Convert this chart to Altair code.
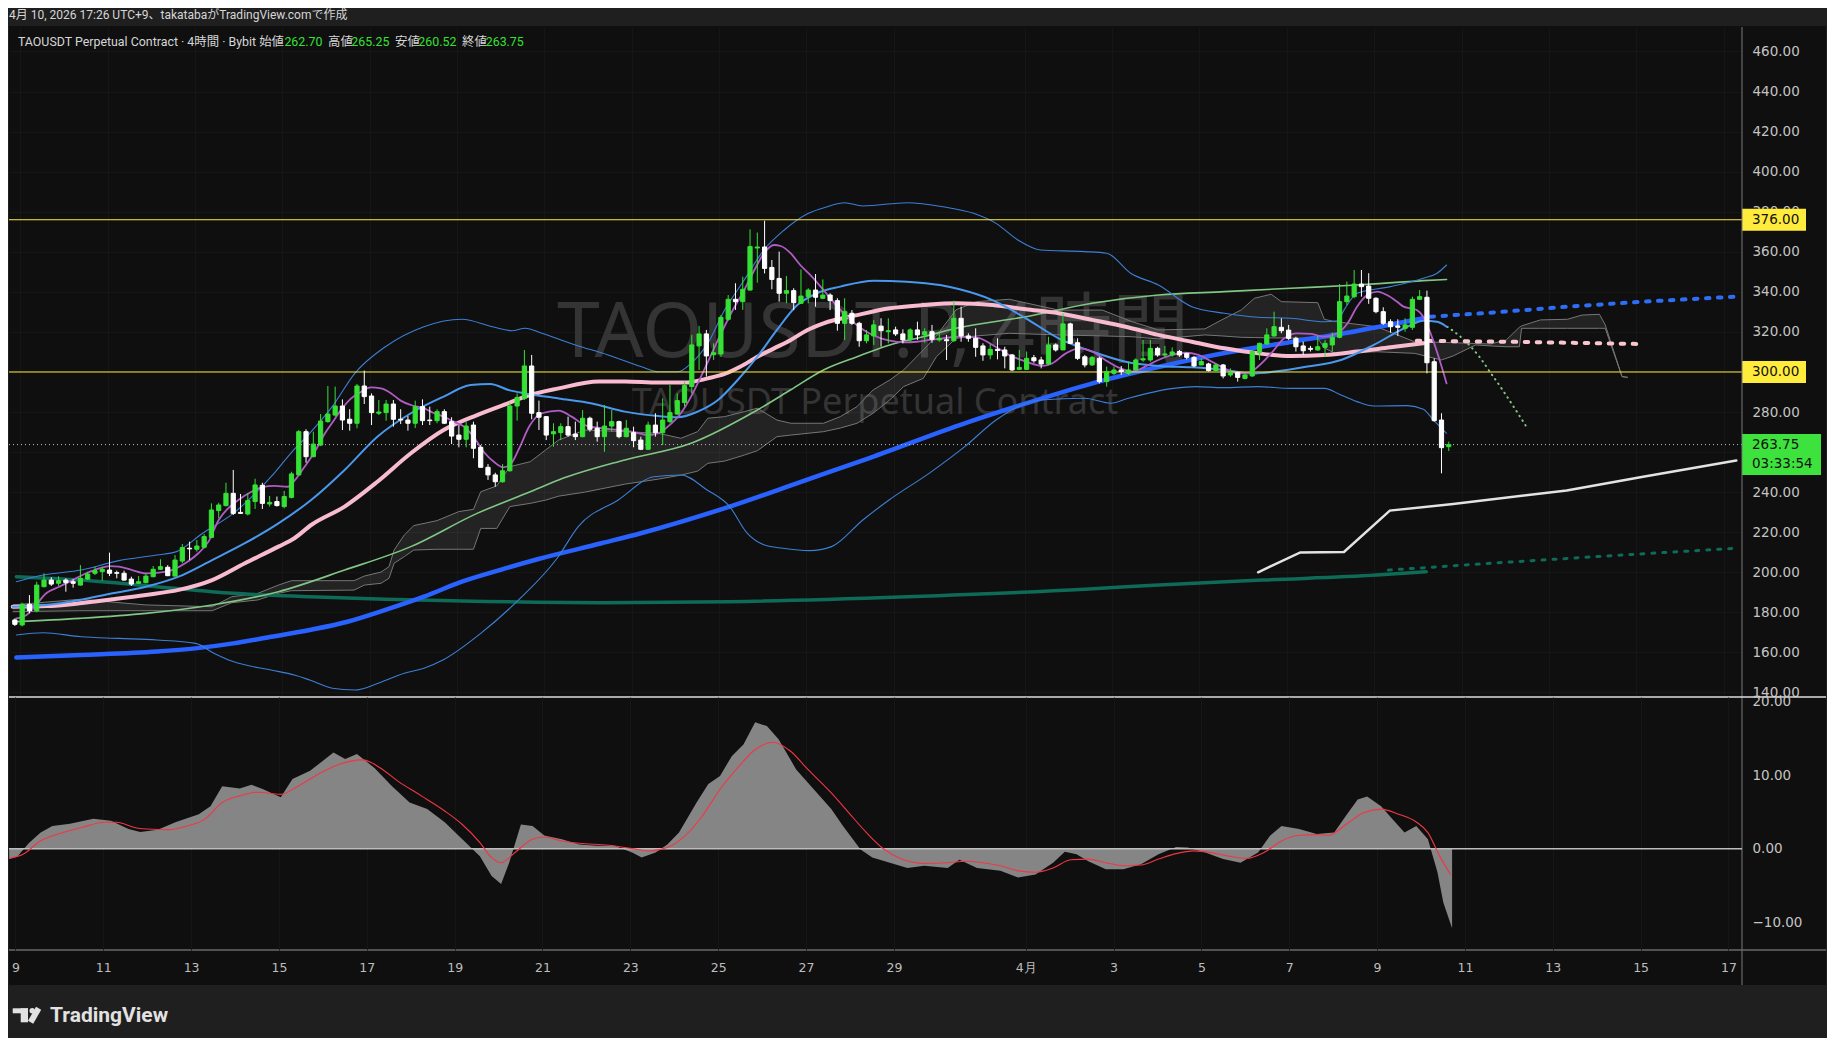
import altair as alt
import pandas as pd
from datetime import datetime, timezone

# ---------------- values ----------------
OPEN = [176.2,173.7,184.0,180.8,192.8,196.1,194.5,196.1,195.3,193.6,
196.6,199.5,200.3,201.1,199.8,199.5,196.6,194.5,194.8,197.8,
201.5,202.5,198.1,205.6,212.0,211.5,212.5,217.4,230.8,233.3,
239.4,229.9,229.1,235.3,243.4,234.1,235.3,232.8,237.4,248.6,
270.2,257.7,263.5,275.2,278.5,283.0,276.4,274.4,293.0,288.0,
279.4,279.7,284.0,276.4,276.0,274.4,282.7,276.0,275.7,280.2,
275.2,268.5,266.4,273.5,262.4,252.4,248.6,245.2,250.7,283.0,
286.8,303.0,279.7,277.7,269.1,269.7,272.7,269.0,267.7,276.9,
271.9,267.7,273.0,275.2,267.7,269.7,266.0,261.4,273.5,269.7,
275.2,279.0,284.7,292.7,313.0,319.0,308.6,309.0,326.3,336.3,
335.1,340.9,361.9,362.4,352.2,346.7,339.3,340.6,334.3,337.6,
340.9,336.8,338.4,335.6,324.3,329.3,324.3,315.6,318.0,322.9,
320.1,321.0,319.0,316.0,321.0,318.5,320.1,316.0,316.1,315.6,
326.8,318.0,316.8,313.0,308.5,311.3,311.0,308.5,301.3,301.3,
307.1,306.0,304.0,313.5,311.0,324.0,314.6,307.6,303.5,306.8,
295.2,299.3,301.0,299.3,301.0,306.0,306.0,311.8,308.5,308.5,
310.2,309.3,307.3,303.5,304.0,300.7,303.5,298.5,299.7,296.8,
298.0,309.6,314.0,318.0,322.3,320.9,316.8,313.0,311.8,311.0,
312.3,313.5,317.3,335.1,337.6,343.9,342.9,336.8,330.1,325.1,
323.0,321.8,322.3,336.3,337.3,305.1,276.0,262.70]
HIGH = [177.0,184.8,188.6,195.3,199.5,197.5,198.0,197.0,196.5,203.6,
200.3,202.8,202.8,209.8,200.8,200.8,197.8,198.1,199.5,203.1,
206.5,203.6,208.6,214.1,215.3,216.1,219.1,234.4,234.7,244.7,
251.1,239.1,239.4,246.7,244.7,238.1,237.8,240.6,250.2,271.0,
271.4,270.2,279.0,293.0,292.7,286.3,281.4,294.0,300.7,289.3,
286.0,286.0,286.0,281.4,278.0,285.7,286.3,282.7,281.4,281.4,
277.4,273.5,275.2,275.2,263.5,254.0,249.7,254.0,284.7,289.3,
311.0,308.5,285.7,278.0,274.4,274.4,277.7,275.2,281.0,277.7,
275.2,283.5,281.0,275.7,276.0,272.7,267.7,275.2,279.4,286.8,
293.5,289.3,295.2,318.5,323.0,321.0,314.3,328.4,338.4,344.3,
347.6,371.2,369.6,375.5,355.9,360.1,347.9,341.8,351.2,341.8,
348.9,346.2,339.3,336.8,336.8,330.9,325.1,321.0,325.9,326.8,
326.8,322.6,321.3,321.8,325.1,321.8,323.5,319.6,318.5,335.6,
332.6,319.3,321.8,314.3,314.0,316.8,312.6,309.0,311.0,310.2,
308.5,307.6,317.6,314.3,329.3,324.6,316.8,308.5,308.0,307.6,
302.7,302.7,303.0,305.1,306.8,316.0,316.0,312.6,313.0,312.3,
311.0,309.6,308.0,306.8,304.6,304.0,304.0,301.8,300.2,299.3,
311.0,314.6,321.8,330.1,326.8,323.5,317.6,315.1,313.0,318.0,
316.0,319.6,343.9,345.1,350.9,350.9,349.3,337.3,332.3,326.3,
326.3,326.8,337.6,340.9,340.6,306.8,279.4,265.25]
LOW = [173.2,173.0,179.5,180.0,192.5,193.2,193.2,190.3,192.3,193.4,
196.1,198.6,195.8,198.1,197.0,195.8,193.2,194.1,194.5,197.5,
201.1,198.1,198.0,204.5,206.1,210.3,212.0,217.0,227.0,232.8,
228.6,229.1,228.4,231.6,231.6,232.8,232.8,231.9,236.9,248.6,
254.7,257.4,263.0,274.7,277.7,271.0,270.7,271.9,284.0,273.5,
278.5,275.7,272.7,274.0,270.7,272.0,273.5,273.5,274.4,274.0,
264.0,262.4,262.4,256.9,252.4,246.1,242.7,244.7,250.2,275.7,
286.0,276.4,271.0,266.0,262.7,266.0,267.7,266.0,267.4,270.2,
265.2,260.2,270.2,266.9,267.4,262.4,261.0,261.0,267.7,263.5,
274.4,278.5,282.7,289.3,301.0,297.7,306.0,307.6,325.6,331.0,
331.0,340.6,344.6,349.2,341.3,335.1,334.3,330.9,333.9,334.3,
332.6,336.3,330.9,320.6,316.0,323.5,312.6,314.3,313.5,312.6,
314.3,318.0,314.3,315.1,316.0,314.6,314.6,315.1,306.0,315.1,
315.1,315.1,307.6,305.6,306.3,306.3,301.8,300.5,301.0,301.0,
304.6,301.8,303.5,310.2,311.0,314.0,306.0,302.3,303.0,294.3,
292.7,298.5,298.5,298.5,301.0,305.1,305.1,307.6,307.3,307.6,
307.6,306.3,302.3,303.5,300.2,300.2,296.8,297.6,295.2,296.3,
297.6,306.0,313.5,317.6,319.3,316.0,310.2,308.5,310.2,310.6,
307.6,310.2,316.8,333.4,336.8,337.6,334.0,329.3,323.5,319.6,
318.0,320.1,321.0,335.9,299.3,275.2,249.4,260.52]
CLOSE = [174.0,184.0,180.8,193.6,196.1,194.1,195.8,194.8,194.5,197.0,
199.1,200.8,201.5,199.5,199.5,196.1,194.1,195.3,198.1,201.5,
202.8,198.3,206.1,212.3,211.7,213.1,217.8,231.1,233.6,239.4,
229.4,229.4,235.8,243.6,234.4,234.9,233.3,237.8,249.1,270.2,
257.7,264.0,275.5,279.0,283.0,276.0,274.4,293.0,287.7,279.7,
280.0,284.0,276.4,276.0,274.4,282.7,275.7,275.7,280.2,274.4,
268.0,266.4,273.0,261.9,252.4,248.6,245.2,250.7,283.0,287.3,
303.0,279.4,277.4,268.5,270.2,272.7,268.5,267.7,276.9,271.4,
267.7,273.0,275.2,267.7,271.9,265.7,261.4,273.5,269.7,276.0,
279.7,285.7,293.2,313.5,319.0,308.0,309.6,327.3,336.3,335.1,
341.3,362.6,362.4,351.7,346.2,339.3,340.6,334.6,337.9,340.9,
337.3,338.4,335.6,324.3,330.1,324.3,315.6,318.5,323.5,320.6,
320.6,319.0,316.0,321.0,318.5,320.1,316.3,316.8,315.6,326.8,
318.0,316.8,312.3,308.5,311.3,310.7,308.0,301.0,302.3,306.8,
305.6,304.0,313.5,311.0,324.0,314.3,306.8,303.5,307.3,295.2,
300.2,301.0,300.2,301.0,306.0,306.6,311.8,308.5,309.0,310.0,
308.5,307.3,303.0,305.2,300.7,303.5,298.0,299.7,297.3,298.5,
310.2,314.3,318.5,322.6,320.6,316.8,312.6,310.6,311.3,312.6,
314.3,317.3,335.1,337.9,343.9,342.6,336.8,330.1,324.3,322.6,
322.3,323.5,336.3,337.6,304.6,275.7,262.2,263.75]

# indicator lines: (bar position, price)
PURPLE = [(0.2,177.0),(1.6,178.7),(2.9,183.7),(4.3,189.5),(6.1,192.8),(7.9,196.1),(9.8,199.5),(11.6,202.0),
(13.0,203.1),(14.3,202.8),(16.1,201.1),(18.0,199.5),(19.8,199.8),(21.6,201.1),(23.4,204.5),(25.2,209.5),
(26.6,215.3),(28.0,226.1),(29.3,231.9),(30.7,236.1),(32.5,240.2),(33.9,242.4),(35.7,243.1),(37.5,242.7),
(38.5,246.1),(39.8,252.7),(41.2,260.2),(42.6,269.4),(43.7,275.2),(44.8,281.0),(46.2,286.8),(47.6,290.2),
(48.9,292.3),(50.3,291.8),(51.7,289.3),(53.0,285.7),(54.4,283.5),(56.2,281.9),(57.6,279.4),(58.9,277.7),
(60.3,275.2),(61.7,272.7),(63.0,267.7),(64.4,260.2),(65.8,255.2),(67.1,252.4),(68.1,254.0),(69.3,262.0),
(70.7,273.0),(72.4,279.4),(74.7,280.7),(76.5,277.7),(78.3,273.5),(80.6,271.9),(82.9,271.0),(84.7,270.2),
(87.0,268.5),(88.4,269.4),(89.7,272.7),(91.5,279.4),(92.9,287.7),(94.7,301.0),(96.6,316.0),(98.4,329.3),
(100.2,340.9),(101.6,350.9),(102.9,359.2),(104.3,363.4),(105.2,362.9),(106.6,359.2),(107.9,353.4),(109.3,348.4),
(111.1,340.9),(113.0,332.6),(114.8,326.0),(116.6,321.0),(118.4,317.6),(120.2,315.6),(122.1,314.8),(123.9,315.1),
(125.7,316.0),(127.5,316.8),(129.8,317.6),(132.1,317.3),(134.3,313.5),(136.6,308.5),(138.9,305.2),(141.2,303.0),
(142.5,304.3),(144.4,309.3),(146.2,311.8),(148.0,310.2),(149.8,306.0),(151.6,302.3),(153.5,300.2),(155.3,302.7),
(157.1,306.0),(159.0,308.5),(160.8,309.6),(162.6,308.5),(164.4,305.2),(166.2,301.8),(168.0,299.3),(169.4,299.3),
(170.8,302.7),(172.6,309.3),(174.4,316.8),(176.2,319.3),(178.1,319.0),(179.9,317.6),(181.7,319.3),(183.1,324.3),
(184.4,332.6),(185.8,338.4),(187.2,340.1),(188.5,338.4),(189.9,335.1),(190.8,332.6),(191.7,331.8),(192.6,330.9),
(193.5,327.6),(194.5,319.3),(195.6,307.6),(196.7,294.3)]
BB_BASIS = [(-0.3,182.8),(4.3,183.7),(8.9,186.2),(13.4,189.5),(18.0,192.8),(22.5,197.8),(27.1,206.1),(31.6,214.5),
(36.2,224.4),(40.7,236.1),(45.3,251.1),(49.8,267.7),(54.4,279.4),(58.9,287.7),(62.6,293.5),(65.3,294.0),
(68.0,290.8),(70.1,289.3),(74.7,286.8),(79.3,284.3),(83.8,280.2),(88.4,278.0),(91.1,277.4),(93.8,280.2),
(96.6,286.0),(99.3,296.0),(102.0,307.6),(104.7,321.0),(107.5,333.4),(110.2,339.3),(113.4,342.6),(118.0,345.6),
(122.5,345.1),(127.1,343.4),(129.8,341.3),(134.3,335.9),(138.9,326.8),(143.4,316.8),(148.0,310.2),(152.6,305.1),
(157.1,303.0),(161.7,302.3),(166.2,301.0),(169.9,299.3),(173.1,300.2),(177.6,302.7),(182.2,306.0),(186.7,313.5),
(191.3,322.6),(193.5,325.6),(195.4,325.1),(196.7,322.6)]
BB_UPPER = [(0.2,195.3),(3.9,198.6),(9.1,201.1),(14.3,205.8),(19.5,208.6),(22.2,210.3),(25.8,219.5),(30.0,229.4),
(35.2,247.7),(37.9,259.4),(40.5,269.4),(43.6,282.7),(46.7,299.3),(50.9,312.6),(56.2,322.6),(61.4,326.3),
(65.6,322.6),(68.3,320.6),(70.1,321.8),(72.4,319.3),(77.0,313.5),(81.5,308.5),(86.1,302.6),(88.4,300.1),
(91.1,300.1),(92.9,304.3),(95.2,314.3),(97.5,330.9),(100.2,345.9),(102.9,360.9),(105.7,370.9),(108.9,379.0),
(111.6,382.5),(114.0,384.5),(116.5,382.9),(122.6,384.5),(127.5,382.5),(131.7,379.2),(134.8,374.2),(137.8,365.9),
(140.9,360.9),(147.0,360.1),(150.0,359.3),(153.3,349.3),(157.1,343.4),(161.7,332.6),(166.2,329.3),(170.8,327.3),
(175.3,326.8),(179.9,325.1),(181.7,325.6),(182.6,330.9),(184.4,339.3),(189.0,342.6),(193.5,346.8),(195.4,349.3),
(196.7,353.4)]
BB_LOWER = [(0.2,168.7),(3.9,169.8),(9.1,167.8),(14.3,167.0),(19.5,166.2),(24.8,164.5),(27.4,159.5),(30.0,155.4),
(35.2,151.2),(38.4,148.7),(40.5,146.2),(43.6,142.1),(46.7,141.2),(49.9,144.6),(53.5,149.6),(56.2,152.1),
(58.8,156.2),(64.0,169.5),(69.2,186.2),(74.5,207.0),(77.4,222.8),(82.9,236.1),(87.8,247.7),(91.5,248.6),
(95.1,241.1),(98.2,232.8),(100.6,219.5),(103.0,213.6),(105.5,212.0),(109.2,210.8),(112.2,212.8),(116.5,226.1),
(120.1,236.1),(125.6,249.4),(130.5,262.7),(134.8,276.0),(137.8,282.7),(140.9,286.0),(147.0,286.9),(150.6,284.4),
(153.0,286.9),(159.2,291.8),(162.2,292.7),(166.0,292.2),(170.8,292.7),(175.3,291.8),(179.9,291.8),(182.2,288.5),
(184.4,285.2),(186.7,283.0),(191.3,283.2),(193.5,281.4),(194.9,276.0),(196.7,269.4)]
PINK = [(-0.3,182.8),(4.3,183.1),(8.9,184.5),(13.4,186.5),(18.0,188.7),(22.5,191.2),(27.1,196.1),(31.6,204.5),
(36.2,212.8),(38.4,217.0),(40.7,223.6),(45.3,232.8),(49.8,245.2),(54.4,259.4),(58.9,271.0),(63.5,278.5),
(68.0,284.7),(70.1,287.7),(74.7,291.8),(80.2,295.2),(83.8,295.2),(88.4,294.7),(92.0,294.7),(95.2,296.8),
(97.5,299.0),(99.7,302.7),(102.0,307.6),(104.3,311.8),(106.6,316.0),(108.9,321.0),(111.1,324.3),(115.7,328.4),
(120.2,331.8),(124.8,333.4),(129.3,334.3),(134.3,333.4),(138.9,331.3),(143.4,329.3),(148.0,326.0),(152.6,322.6),
(157.1,318.5),(161.7,315.1),(166.2,311.8),(170.8,309.3),(175.3,308.0),(179.9,308.5),(184.4,310.2),(189.0,312.3),
(193.5,314.3)]
PINK_PROJ = [(192.6,315.6),(207.0,315.0),(222.9,314.0)]
LGREEN = [(-0.3,175.3),(8.9,177.0),(18.0,179.5),(27.1,183.7),(36.2,190.3),(45.3,201.1),(54.4,212.8),(63.5,229.4),
(70.8,240.2),(74.7,246.1),(83.8,256.1),(92.9,264.4),(102.0,281.0),(106.6,291.1),(111.1,301.0),(115.7,307.6),
(120.2,313.5),(124.8,317.6),(129.3,321.8),(138.9,327.6),(148.0,334.3),(157.1,338.4),(166.2,340.1),(175.3,341.8),
(184.4,343.4),(193.5,345.6),(196.7,346.2)]
LGREEN_PROJ = [(196.8,322.6),(199.1,316.0),(201.2,307.6),(202.8,299.3),(204.4,291.0),(205.9,282.7),(207.8,271.9)]
BLUE = [(0.2,157.5),(9.1,158.7),(19.5,160.4),(24.8,162.0),(30.0,164.5),(35.2,167.8),(40.5,171.2),(45.7,175.3),
(50.9,181.2),(56.2,187.8),(61.4,195.3),(66.6,201.1),(71.8,206.5),(80.6,214.5),(86.0,219.5),(98.2,232.8),
(107.9,245.0),(117.0,256.5),(129.8,273.5),(138.9,284.3),(148.9,295.2),(157.1,302.5),(166.2,309.5),(175.3,315.0),
(184.4,320.5),(193.5,326.8)]
BLUE_PROJ = [(194.5,327.6),(202.8,329.6),(213.3,332.6),(223.7,335.1),(236.3,337.6)]
TEAL = [(0.2,197.8),(9.1,196.1),(19.5,192.8),(30.0,189.5),(40.5,187.8),(50.9,186.5),(61.4,185.7),(71.8,185.0),
(80.6,184.8),(98.2,185.3),(122.6,187.8),(147.0,191.5),(155.8,193.4),(171.4,196.1),(187.1,198.6),(193.9,200.3)]
TEAL_PROJ = [(188.7,201.1),(202.8,204.5),(218.5,208.1),(236.5,212.0)]
WHITE = [(170.8,200.0),(176.6,209.9),(182.6,210.1),(188.9,230.8),(197.6,234.1),(213.2,240.8),(223.7,247.7),(236.5,255.8)]
# cloud: (bar position, upper edge, lower edge)
CLOUD = [(-0.3,183.7,180.3),(8.9,186.5,180.8),(18.0,183.7,180.8),(27.1,182.8,180.8),(29.8,187.8,184.8),
(33.4,189.5,186.2),(36.2,193.6,189.5),(38.0,195.8,190.8),(46.6,195.8,191.1),(48.0,198.1,193.6),(50.3,200.1,194.5),
(51.4,202.8,197.0),(52.1,211.1,204.5),(53.5,218.6,207.8),(54.8,223.3,211.1),(58.0,225.8,211.5),(61.0,230.3,211.5),
(63.0,231.4,211.5),(64.0,240.2,221.9),(66.2,243.1,221.9),(68.0,252.7,232.8),(70.8,255.2,234.4),(72.9,261.0,236.0),
(74.7,266.0,238.0),(78.3,271.0,240.0),(83.8,270.2,244.0),(88.4,269.4,246.5),(91.5,266.9,248.5),(93.8,270.2,250.5),
(95.2,276.9,254.4),(97.5,277.7,255.5),(100.2,280.2,258.5),(102.0,281.9,260.7),(104.7,276.0,267.7),(106.6,274.4,268.5),
(111.1,274.4,270.2),(113.4,277.7,272.0),(115.7,282.7,274.4),(117.9,291.0,279.4),(120.2,296.0,286.0),(122.1,301.0,292.7),
(124.8,311.0,296.8),(126.6,318.0,307.6),(129.3,331.0,316.8),(132.1,335.1,318.0),(136.6,336.3,319.3),(143.4,330.9,318.5),
(149.4,330.9,318.0),(153.5,325.1,317.6),(157.1,321.0,316.5),(163.5,321.5,318.5),(165.8,326.0,318.0),(168.5,331.0,317.3),
(170.3,336.8,317.2),(172.6,338.8,317.0),(174.0,335.1,317.0),(179.0,334.6,316.8),(179.9,326.3,312.0),(181.4,325.1,309.3),
(187.1,322.6,310.1),(192.3,315.1,309.3),(196.0,314.8,306.0),(197.6,314.6,308.0),(200.7,314.2,313.5),(202.8,314.0,313.0),
(204.9,316.0,312.6),(206.7,322.3,312.6),(207.0,323.0,321.8),(209.6,326.0,321.8),(213.3,326.3,321.8),(215.3,328.4,321.8),
(217.7,328.8,321.8),(218.5,323.5,321.8),(220.8,297.7,297.7),(221.6,297.3,297.3)]
OSC = [(-0.1,-1.4),(1.05,-1.0),(2.6,0.8),(4.2,2.2),(5.8,3.1),(8.2,3.4),(11.4,4.1),(13.8,3.8),(16.2,2.7),(17.8,2.3),
(20.2,2.6),(22.6,3.6),(25.8,4.7),(27.4,5.8),(29.0,8.5),(31.4,8.2),(33.0,8.7),(34.6,8.1),(37.0,7.0),(38.6,9.5),
(41.0,10.6),(44.2,13.1),(45.8,12.2),(47.4,12.9),(49.8,11.0),(52.2,8.5),(54.6,6.3),(57.0,5.4),(59.4,3.6),(61.8,1.3),
(64.2,-1.0),(65.8,-3.7),(67.1,-4.8),(68.2,-1.9),(69.8,3.3),(71.4,3.1),(73.0,1.8),(75.4,1.3),(77.8,0.6),(80.2,0.4),
(82.6,0.4),(85.0,-0.5),(86.3,-1.2),(88.2,-0.5),(89.8,0.6),(91.4,2.2),(93.8,6.3),(95.4,8.8),(97.0,9.9),(98.6,12.6),
(100.2,14.2),(101.8,17.2),(103.4,16.7),(105.0,14.9),(107.4,10.8),(109.8,8.1),(112.2,5.4),(113.8,3.1),(116.2,-0.1),
(117.8,-1.2),(120.2,-1.9),(122.6,-2.6),(124.9,-2.3),(128.1,-2.6),(129.7,-1.5),(132.1,-2.6),(135.3,-3.0),(137.7,-3.9),
(140.1,-3.5),(142.5,-1.9),(144.1,-0.4),(145.7,-0.75),(147.3,-1.7),(149.7,-2.8),(152.1,-2.8),(154.5,-2.1),(156.9,-0.75),
(159.3,0.25),(160.9,0.16),(163.3,-0.5),(165.7,-1.4),(168.1,-1.9),(170.5,-0.5),(172.1,1.75),(173.7,3.1),(176.1,2.7),
(178.5,2.0),(180.9,2.2),(182.5,4.5),(184.1,6.7),(185.4,7.1),(187.3,5.8),(188.9,4.0),(190.5,2.2),(192.1,3.1),
(193.7,1.3),(195.0,-3.2),(195.8,-7.3),(197.0,-10.8)]
SIGNAL = [(-0.1,-1.3),(1.8,-0.75),(4.2,1.1),(6.6,2.0),(9.8,2.9),(13.0,3.6),(14.6,3.6),(17.0,2.9),(19.4,2.65),(21.8,2.6),
(24.2,3.1),(26.6,4.0),(29.0,6.3),(31.4,7.2),(33.8,7.7),(37.0,7.4),(39.4,8.55),(42.6,10.4),(45.0,11.5),(48.2,12.1),
(50.6,11.0),(53.0,9.2),(56.2,7.2),(59.4,5.15),(61.8,3.3),(64.2,0.84),(65.8,-1.2),(67.1,-1.9),(69.0,-0.5),(71.4,1.3),
(73.0,1.6),(75.4,1.07),(77.8,0.75),(81.8,0.48),(85.0,0.02),(87.4,-0.29),(89.8,0.16),(92.2,1.75),(94.6,4.5),(97.0,8.1),
(99.4,11.0),(101.8,13.5),(104.2,14.5),(106.6,13.3),(109.0,10.8),(112.2,7.6),(114.6,4.9),(117.0,2.2),(119.4,-0.07),
(121.8,-1.4),(124.9,-2.0),(128.1,-1.9),(130.5,-1.7),(132.9,-1.9),(135.3,-2.3),(137.7,-3.0),(140.1,-3.2),(142.5,-2.6),
(144.9,-1.5),(147.3,-1.4),(149.7,-1.9),(152.1,-2.3),(154.5,-2.2),(156.9,-1.4),(159.3,-0.66),(161.7,-0.29),(164.1,-0.52),
(166.5,-1.0),(168.9,-1.3),(171.3,-0.5),(173.7,1.07),(176.1,1.84),(178.5,1.93),(180.1,1.84),(182.5,3.3),(184.9,4.9),
(187.3,5.4),(189.7,4.7),(192.1,3.65),(193.7,2.2),(195.3,-1.0),(196.8,-3.5)]

LEVELS = [376.0, 300.0]
LEVEL_LABELS = ["376.00", "300.00"]
LAST_PRICE = [263.75]
LAST_LABEL = ["263.75"]
COUNTDOWN = ["03:33:54"]
PRICE_TICKS = [140, 160, 180, 200, 220, 240, 260, 280, 300, 320, 340, 360, 380, 400, 420, 440, 460]
OSC_TICKS = [20, 10, 0, -10]
TICK_DAYS = [(3, 9), (3, 11), (3, 13), (3, 15), (3, 17), (3, 19), (3, 21), (3, 23), (3, 25), (3, 27), (3, 29),
             (4, 1), (4, 3), (4, 5), (4, 7), (4, 9), (4, 11), (4, 13), (4, 15), (4, 17)]
TITLE = "4月 10, 2026 17:26 UTC+9、takatabaがTradingView.comで作成"
LEGEND_TEXT = ["TAOUSDT Perpetual Contract · 4時間 · Bybit  始値", "262.70", "高値", "265.25", "安値", "260.52", "終値", "263.75"]
WATERMARK = "TAOUSDT.P, 4時間"
WATERMARK_SUB = "TAOUSDT Perpetual Contract"
BRAND = "TradingView"

# ---------------- helpers ----------------
T0 = datetime(2026, 3, 8, 21, tzinfo=timezone.utc).timestamp() * 1000
BAR_MS = 4 * 3600 * 1000


def t_ms(i):
    return T0 + i * BAR_MS


GREEN = "#36e136"
BG = "#0f0f0f"
FRAME = "#1f1f1f"
LOGO = "#e2e2e2"
FONT_UI = "Roboto, 'Noto Sans CJK JP', sans-serif"
FONT_AX = "'DejaVu Sans', sans-serif"
FONT_WM = "'Noto Sans', 'Noto Sans CJK JP', sans-serif"

W, H1, H2 = 1733, 670, 253
XS = alt.Scale(type="utc", domain=[t_ms(-0.123), t_ms(236.6)], nice=False)
YS = alt.Scale(domain=[137.73, 472.23], nice=False, zero=False)
VS = alt.Scale(domain=[-13.77, 20.65], nice=False, zero=False)
TICK_MS = [datetime(2026, m, d, tzinfo=timezone.utc).timestamp() * 1000 for m, d in TICK_DAYS]

XAX_TOP = alt.Axis(values=TICK_MS, labels=False, ticks=False, domain=False, grid=True, gridColor="#161616")
XAX_BOT = alt.Axis(values=TICK_MS, ticks=False, tickSize=0, domain=False, grid=True, gridColor="#161616",
                   labelExpr="utcdate(datum.value) == 1 ? (utcmonth(datum.value) + 1) + '月' : '' + utcdate(datum.value)",
                   labelColor="#bdbdbd", labelFont=FONT_AX, labelFontSize=12.5, labelPadding=11,
                   labelFlush=False, labelOverlap=False)
YAX = alt.Axis(orient="right", values=PRICE_TICKS, format=".2f", ticks=False, tickSize=0, domain=False,
               grid=True, gridColor="#161616", labelColor="#c4c4c4", labelFont=FONT_AX,
               labelFontSize=13.5, labelPadding=10)
VAX = alt.Axis(orient="right", values=OSC_TICKS, ticks=False, tickSize=0, domain=False, grid=False,
               labelExpr="(datum.value < 0 ? '\u2212' : '') + format(abs(datum.value), '.2f')",
               labelColor="#c4c4c4", labelFont=FONT_AX, labelFontSize=13.5, labelPadding=10)

X = alt.X("t:T", scale=XS, axis=XAX_TOP, title=None)
XB = alt.X("t:T", scale=XS, axis=XAX_BOT, title=None)
ONE = pd.DataFrame({"k": [0]})


def Y(field):
    return alt.Y(f"{field}:Q", scale=YS, axis=YAX, title=None)


def V(field):
    return alt.Y(f"{field}:Q", scale=VS, axis=VAX, title=None)


def pts(pairs):
    return pd.DataFrame({"t": [t_ms(a) for a, _ in pairs], "p": [b for _, b in pairs]})


def line(pairs, color, width, dash=None, interp="monotone"):
    kw = dict(color=color, strokeWidth=width, clip=True, interpolate=interp, strokeCap="round")
    if dash:
        kw["strokeDash"] = dash
    return alt.Chart(pts(pairs)).mark_line(**kw).encode(x=X, y=Y("p"))


def rect_px(x0, x1, y0, y1, color):
    return alt.Chart(ONE).mark_rect(color=color).encode(
        x=alt.value(x0), x2=alt.value(x1), y=alt.value(y0), y2=alt.value(y1))


def rule_px(x0, x1, y0, y1, color, width, cap="butt"):
    return alt.Chart(ONE).mark_rule(color=color, strokeWidth=width, strokeCap=cap).encode(
        x=alt.value(x0), x2=alt.value(x1), y=alt.value(y0), y2=alt.value(y1))


def text_px(s, x, y, color, size, font=FONT_UI, weight="normal", align="left", baseline="middle"):
    return alt.Chart(ONE).mark_text(text=s, align=align, baseline=baseline, color=color, fontSize=size,
                                    font=font, fontWeight=weight).encode(x=alt.value(x), y=alt.value(y))


# ---------------- price pane ----------------
candles = pd.DataFrame({"t": [t_ms(i) for i in range(len(OPEN))], "o": OPEN, "h": HIGH, "l": LOW, "c": CLOSE})
candles["dir"] = ["up" if c >= o else "down" for o, c in zip(OPEN, CLOSE)]
DIR_SCALE = alt.Scale(domain=["up", "down"], range=[GREEN, "#ffffff"])

cloud_df = pd.DataFrame({"t": [t_ms(a) for a, _, _ in CLOUD], "top": [b for _, b, _ in CLOUD],
                         "bot": [c for _, _, c in CLOUD]})
cloud_fill = alt.Chart(cloud_df).mark_area(color="#ffffff", opacity=0.085, clip=True).encode(
    x=X, y=Y("top"), y2="bot:Q")
cloud_top = alt.Chart(cloud_df).mark_line(color="#767676", strokeWidth=1, clip=True).encode(x=X, y=Y("top"))
cloud_bot = alt.Chart(cloud_df).mark_line(color="#767676", strokeWidth=1, clip=True).encode(x=X, y=Y("bot"))

wicks = alt.Chart(candles).mark_rule(strokeWidth=1, clip=True).encode(
    x=X, y=Y("l"), y2="h:Q", color=alt.Color("dir:N", scale=DIR_SCALE, legend=None))
bodies = alt.Chart(candles).mark_bar(size=4.2, strokeWidth=1, clip=True).encode(
    x=X, y=Y("o"), y2="c:Q",
    color=alt.Color("dir:N", scale=DIR_SCALE, legend=None),
    stroke=alt.Stroke("dir:N", scale=DIR_SCALE, legend=None))

lev_df = pd.DataFrame({"p": LEVELS, "lab": LEVEL_LABELS})
last_df = pd.DataFrame({"p": LAST_PRICE, "lab": LAST_LABEL, "cd": COUNTDOWN})
level_rules = alt.Chart(lev_df).mark_rule(color="#ffeb3b", strokeWidth=1).encode(y=Y("p"))
last_rule = alt.Chart(last_df).mark_rule(color="#bdbdbd", strokeWidth=1, strokeDash=[1, 3]).encode(y=Y("p"))
level_boxes = alt.Chart(lev_df).mark_tick(color="#ffeb3b", size=64, thickness=22, orient="horizontal",
                                          opacity=1).encode(y=Y("p"), x=alt.value(W + 32))
level_text = alt.Chart(lev_df).mark_text(align="left", baseline="middle", color="#111111", fontSize=13.5,
                                         font=FONT_AX).encode(y=Y("p"), x=alt.value(W + 10), text="lab:N")
last_box = alt.Chart(last_df).mark_tick(color="#3de23d", size=79, thickness=41, orient="horizontal",
                                        yOffset=10, opacity=1).encode(y=Y("p"), x=alt.value(W + 39.5))
last_text = alt.Chart(last_df).mark_text(align="left", baseline="middle", color="#111111", fontSize=13.5,
                                         font=FONT_AX).encode(y=Y("p"), x=alt.value(W + 10), text="lab:N")
last_cd = alt.Chart(last_df).mark_text(align="left", baseline="middle", color="#111111", fontSize=13.5,
                                       font=FONT_AX, dy=19).encode(y=Y("p"), x=alt.value(W + 10), text="cd:N")

LEGEND_X = [8.9, 275.4, 319, 342.3, 386, 409.3, 453, 476.7]
legend_layers = []
for k, (s, x) in enumerate(zip(LEGEND_TEXT, LEGEND_X)):
    legend_layers.append(text_px(s, x, 15, GREEN if k % 2 == 1 else "#d6d6d6", 12.4))

# TradingView brand mark (bottom-left), drawn from simple shapes
logo = [
    rect_px(3.7, 19, 981.3, 986.3, LOGO),
    rect_px(11.7, 19, 981.3, 995.3, LOGO),
    alt.Chart(ONE).mark_circle(color=LOGO, opacity=1, size=30).encode(x=alt.value(23.2), y=alt.value(983.8)),
    rule_px(29.6, 21.6, 981.3, 995.3, LOGO, 6),
    text_px(BRAND, 41, 995.3, LOGO, 21, weight="bold", baseline="alphabetic"),
]

top = alt.layer(
    rect_px(-1, W + 85, -19, -1, FRAME),
    rect_px(-1, W + 85, 958, 1011, FRAME),
    rect_px(-1, 0, -19, 1011, FRAME),
    rect_px(W + 84, W + 85, -19, 1011, FRAME),
    text_px(WATERMARK, 864, 307, "#343434", 77, font=FONT_WM, align="center"),
    text_px(WATERMARK_SUB, 866, 376, "#343434", 36, font=FONT_WM, align="center"),
    cloud_fill, cloud_top, cloud_bot,
    line(TEAL, "#0d6b58", 3.5),
    line(TEAL_PROJ, "#0d6b58", 3, dash=[3, 8], interp="linear"),
    line(BLUE, "#2962ff", 4.5),
    line(BLUE_PROJ, "#2f6df6", 4, dash=[3.5, 8.5], interp="linear"),
    line(WHITE, "#e3e3e3", 2.5, interp="linear"),
    line(LGREEN, "#81c784", 1.6),
    line(LGREEN_PROJ, "#81c784", 2, dash=[0.5, 5], interp="monotone"),
    line(PINK, "#f8bbd0", 4),
    line(PINK_PROJ, "#f8c6cf", 4, dash=[3.5, 8.5], interp="linear"),
    line(BB_UPPER, "#3c7fd6", 1.1),
    line(BB_LOWER, "#3c7fd6", 1.1),
    line(BB_BASIS, "#4a98ee", 2),
    line(PURPLE, "#b05cc4", 1.8),
    level_rules, last_rule,
    wicks, bodies,
    level_boxes, level_text, last_box, last_text, last_cd,
    rule_px(W, W, 0, 958, "#7a7a7a", 1),
    rule_px(0, W + 84, H1, H1, "#dedede", 1.5),
    rule_px(0, W + 84, H1 + H2, H1 + H2, "#6a6a6a", 1.5),
    text_px(TITLE, 0, -12, "#d6d6d6", 12),
    *legend_layers,
    *logo,
).properties(width=W, height=H1)

# ---------------- oscillator pane ----------------
osc_df = pd.DataFrame({"t": [t_ms(a) for a, _ in OSC], "v": [b for _, b in OSC]})
sig_df = pd.DataFrame({"t": [t_ms(a) for a, _ in SIGNAL], "v": [b for _, b in SIGNAL]})
bottom = alt.layer(
    alt.Chart(osc_df).mark_area(color="#858585", clip=True).encode(x=XB, y=V("v")),
    alt.Chart(pd.DataFrame({"v": [0]})).mark_rule(color="#bdbdbd", strokeWidth=1.5).encode(y=V("v")),
    alt.Chart(sig_df).mark_line(color="#f23645", strokeWidth=1.1, clip=True, interpolate="monotone").encode(
        x=XB, y=V("v")),
).properties(width=W, height=H2)

chart = alt.vconcat(top, bottom, spacing=0, bounds="flush", padding=0, background=BG).configure_view(
    strokeWidth=0)

chart.save("out.html", embed_options={"renderer": "svg", "actions": False})
